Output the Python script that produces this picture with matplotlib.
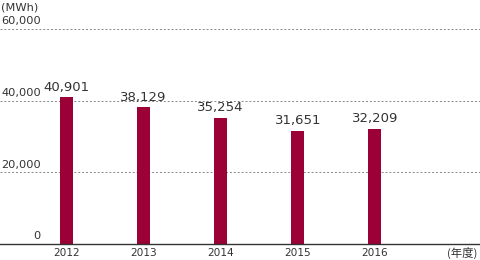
import matplotlib
matplotlib.use("Agg")
import matplotlib.pyplot as plt

plt.rcParams["font.family"] = ["DejaVu Sans", "Noto Sans CJK JP"]

years = ["2012", "2013", "2014", "2015", "2016"]
values = [40901, 38129, 35254, 31651, 32209]
value_labels = ["40,901", "38,129", "35,254", "31,651", "32,209"]
y_ticks = [0, 20000, 40000, 60000]
y_tick_labels = ["0", "20,000", "40,000", "60,000"]

bar_color = "#9b0036"
text_color = "#333333"

fig = plt.figure(figsize=(4.8, 2.6), dpi=100)
ax = fig.add_axes([0, 16 / 260, 1, (244 - 29) / 260])
ax.set_xlim(-0.862, 5.363)
ax.set_ylim(0, 60000)
ax.axis("off")

x = list(range(len(years)))
ax.bar(x, values, width=0.17, color=bar_color, zorder=3)

for yv in y_ticks[1:]:
    ax.axhline(yv, color="#888888", linewidth=0.7, linestyle=(0, (2, 2)),
               clip_on=False, zorder=1)
ax.axhline(0, color="#333333", linewidth=1.0, clip_on=False, zorder=4)

for yv, lab in zip(y_ticks, y_tick_labels):
    ax.text(41 / 480, yv + 700, lab, transform=ax.get_yaxis_transform(),
            ha="right", va="bottom", fontsize=8.2, color=text_color)

for xi, v, lab in zip(x, values, value_labels):
    ax.text(xi, v + 900, lab, ha="center", va="bottom", fontsize=9.5,
            color=text_color)

for xi, lab in zip(x, years):
    ax.text(xi, -2600, lab, ha="center", va="center", fontsize=7.6,
            color=text_color)

ax.text(477 / 480, -2600, "(年度)", transform=ax.get_yaxis_transform(),
        ha="right", va="center", fontsize=8.2, color=text_color,
        family=["Noto Sans CJK JP", "DejaVu Sans"])
fig.text(1 / 480, 1 - 8 / 260, "(MWh)", ha="left", va="center",
         fontsize=8.2, color=text_color)

fig.savefig("out.png", dpi=100)
